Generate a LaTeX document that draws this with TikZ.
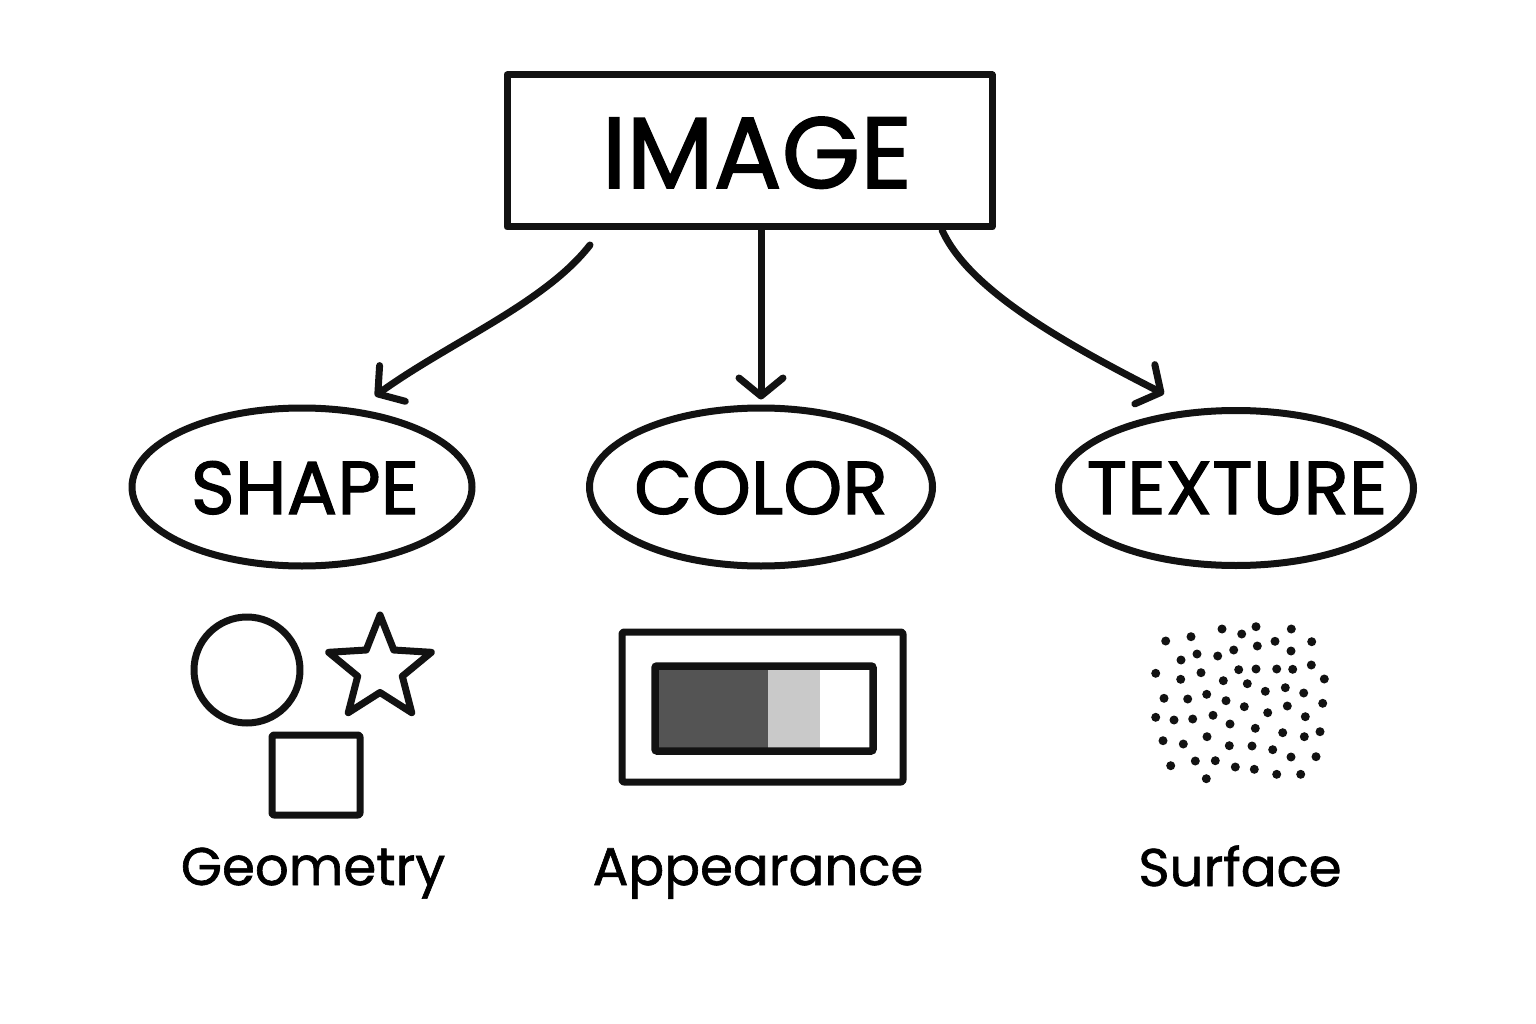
\documentclass[tikz,border=0pt]{standalone}
\usepackage{fontspec}
\setmainfont{Poppins}[FakeBold=1.2]
\newfontfamily\capsfont{Poppins}[FakeBold=1.5]
\usetikzlibrary{arrows.meta,shapes.geometric}
\begin{document}
\begin{tikzpicture}[x=1pt,y=-1pt,
  ink/.style={draw=black!93,line width=7pt,line cap=round,line join=round},
  headbox/.style={ink,rectangle,minimum width=485pt,minimum height=152pt,inner sep=0pt},
  oval/.style={ink,ellipse,minimum height=158pt,inner sep=0pt},
  conn/.style={ink,-{Straight Barb[length=18pt,width=44pt,line width=7pt,round]}},
  big/.style={font=\capsfont\fontsize{101}{100}\selectfont,anchor=base,inner sep=0pt},
  mid/.style={font=\capsfont\fontsize{75}{80}\selectfont,anchor=base,inner sep=0pt},
  small/.style={font=\fontsize{53}{60}\selectfont,anchor=base,inner sep=0pt},
  dot/.style={fill=black!93,draw=none,circle,inner sep=0pt,minimum size=9pt}]
\useasboundingbox[fill=white] (0,0) rectangle (1536,1024);

\node[headbox] (img) at (749.5,151) {};
\node[big] (imgt) at (757,188) {IMAGE};

\node[oval,minimum width=340pt] (shape) at (302,487) {};
\node[mid] (shapet) at (305,514) {SHAPE};
\node[oval,minimum width=343pt] (color) at (761,487) {};
\node[mid] (colort) at (761,514) {COLOR};
\node[oval,minimum width=355pt,minimum height=155pt] (texture) at (1236,488) {};
\node[mid] (texturet) at (1237,514) {TEXTURE};

\coordinate (ls) at (590,245);
\coordinate (le) at (375,396);
\coordinate (rs) at (942,230);
\coordinate (re) at (1164,394);
\draw[conn] (ls) .. controls (545,303) and (450,342) .. (le);
\draw[conn] (img.south -| color.north) -- ([yshift=5pt]color.north);
\draw[conn] (rs) .. controls (968,288) and (1058,340) .. (re);

% shapes
\node[ink,circle,minimum size=106pt,inner sep=0pt] (circ) at (247,670) {};
\node[ink,star,star points=5,star point ratio=2.3,minimum size=108pt,inner sep=0pt] (star) at (380,669) {};
\node[ink,rectangle,rounded corners=2pt,minimum width=88pt,minimum height=80pt,inner sep=0pt] (sq) at (316,775) {};
\node[small] (geo) at (313,885) {Geometry};

% colour swatch
\node[ink,rectangle,rounded corners=2pt,minimum width=281pt,minimum height=150pt,inner sep=0pt] (frame) at (762.5,707) {};
\fill[black!67] (659,669) rectangle (768,748);
\fill[black!21] (768,669) rectangle (820,748);
\node[draw=black!93,line width=7.5pt,rectangle,rounded corners=2pt,minimum width=218pt,minimum height=85pt,inner sep=0pt] (bar) at (764,708.5) {};
\node[small] (app) at (758,885) {Appearance};

% texture dots
\foreach \x/\y in {1165.7/641,1191/636.7,1222/629,1241.7/634,1256/626.7,1291.3/629,1311.7/641.7,
 1181/660,1197/654,1217.7/656,1233.7/650,1257.3/646,1275/641.3,1291/651,
 1155.7/673.3,1180.7/679.3,1201/672.7,1223.3/680.7,1238.7/669.7,1256/669,1276.7/669,1292.7/669.3,1311.3/665,1324.3/679,
 1247.3/683.7,1265.3/691.3,1285.3/687.7,1303.7/693,
 1164/698.3,1187.7/699,1206.7/694.3,1226/700.7,1244.3/706.7,1287.3/706,1322.7/703.3,
 1155.7/717.3,1174/720,1192.7/719,1213/715.3,1230/724,1267.7/712.7,1305.3/716.7,
 1163/740.7,1183.3/744,1207/736.7,1255.3/728.3,1282.7/732.7,1304.3/736.7,1320/731.7,
 1229.3/745.7,1252/746,1272.7/749.7,1291/757,1316/756.7,
 1170.7/765.7,1195.3/761,1215.3/760.7,1235.3/767,1254.3/769.3,1276.7/774.3,1300.7/774.3,1206.3/778.7}
  \node[dot] at (\x,\y) {};
\node[small] (surf) at (1240,886) {Surface};
\end{tikzpicture}
\end{document}
